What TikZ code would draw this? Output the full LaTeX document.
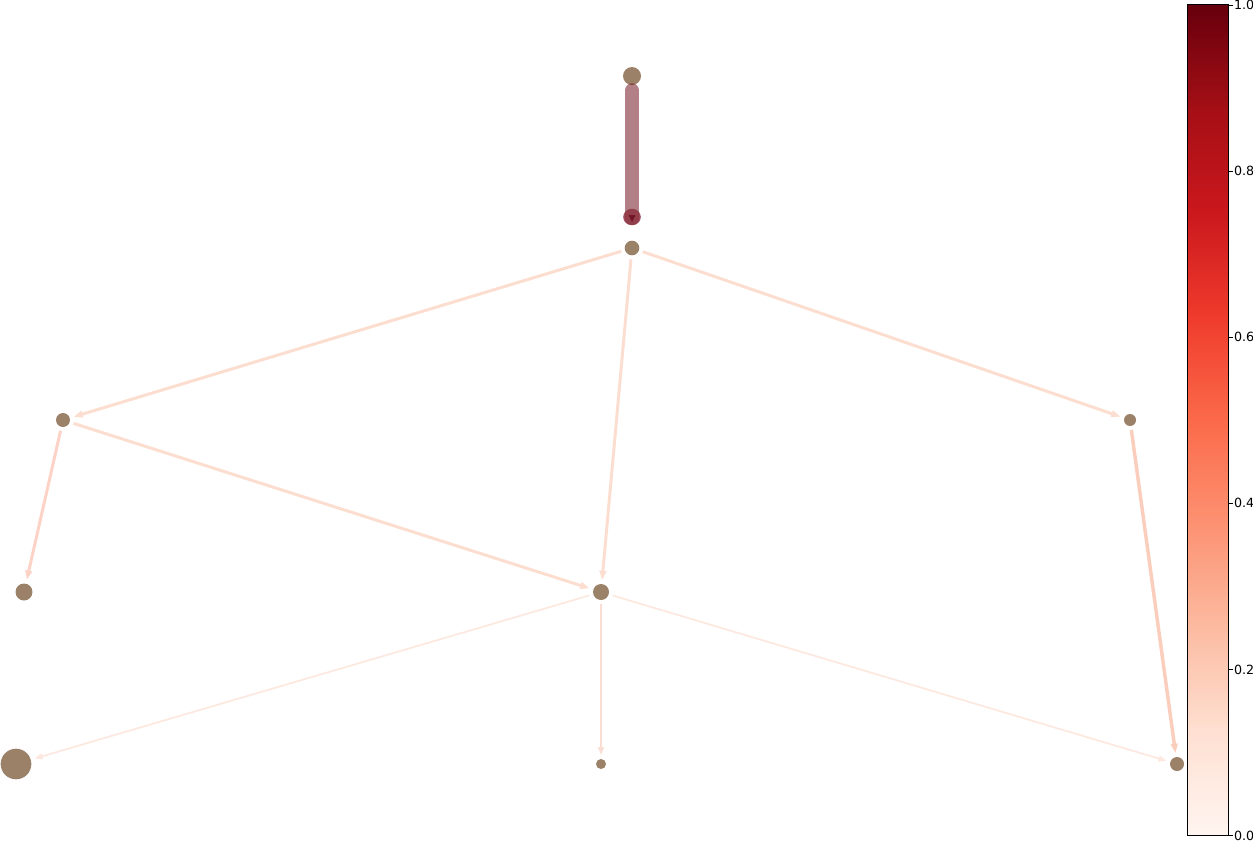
\documentclass[tikz,border=0pt]{standalone}
\usepackage{fontspec}
\setmainfont{DejaVu Sans}
\usetikzlibrary{arrows.meta}
\definecolor{nodecol}{RGB}{156,129,105}
\definecolor{rA}{HTML}{FFF5F0}
\definecolor{rB}{HTML}{FEE0D2}
\definecolor{rC}{HTML}{FCBBA1}
\definecolor{rD}{HTML}{FC9272}
\definecolor{rE}{HTML}{FB6A4A}
\definecolor{rF}{HTML}{EF3B2C}
\definecolor{rG}{HTML}{CB181D}
\definecolor{rH}{HTML}{A50F15}
\definecolor{rI}{HTML}{67000D}
\definecolor{blobcol}{RGB}{145,55,70}
\definecolor{blobtip}{RGB}{112,22,38}
\definecolor{edgeA}{RGB}{252,222,208}
\definecolor{edgeB}{RGB}{251,205,188}
\definecolor{edgeC}{RGB}{253,232,224}
\definecolor{edgeD}{RGB}{250,222,212}
\tikzset{
  gnode/.style={circle, fill=nodecol, draw=none, inner sep=0pt, outer sep=3pt},
  gedge/.style={line width=2.25pt, -{Triangle[length=7pt,width=5pt]}},
  thinedge/.style={line width=1.3pt, -{Triangle[length=6pt,width=4.5pt]}},
  cbtick/.style={line width=0.6pt},
  cblabel/.style={anchor=west, font=\fontsize{9.5pt}{11pt}\selectfont, inner sep=1pt}
}
\begin{document}
\begin{tikzpicture}[x=0.75pt,y=-0.75pt]
\useasboundingbox (0,0) rectangle (1253,842);
% nodes
\node[gnode, minimum size=13.5pt] (A) at (632,76) {};
\node[gnode, minimum size=11pt] (C) at (632,248) {};
\node[gnode, minimum size=10.5pt] (D) at (63,420) {};
\node[gnode, minimum size=9pt] (E) at (1130,420) {};
\node[gnode, minimum size=12.75pt] (F) at (24,592) {};
\node[gnode, minimum size=12pt] (G) at (601,592) {};
\node[gnode, minimum size=23pt] (H) at (16,764) {};
\node[gnode, minimum size=7.5pt] (I) at (601,764) {};
\node[gnode, minimum size=10.5pt] (J) at (1177,764) {};
% thick edge A -> C
\draw[rI, opacity=0.5, line width=10.5pt, line cap=round, shorten <=1pt, shorten >=14pt] (A) -- (C);
\coordinate (Ctip) at (632,217);
\fill[blobcol, opacity=0.9] (Ctip) ellipse[x radius=6.6pt, y radius=6.2pt];
\fill[blobtip] (632,222) -- (628.5,215) -- (635.5,215) -- cycle;
% light edges
\draw[gedge, edgeA] (C) -- (D);
\draw[gedge, edgeA] (C) -- (G);
\draw[gedge, edgeA] (C) -- (E);
\draw[gedge, edgeA] (D) -- (G);
\draw[gedge, edgeA!95!red] (D) -- (F);
\draw[gedge, edgeB, line width=2.6pt] (E) -- (J);
\draw[thinedge, edgeC] (G) -- (H);
\draw[thinedge, edgeC] (G) -- (J);
\draw[thinedge, edgeD] (G) -- (I);
% colorbar
\coordinate (cbTL) at (1187,5);
\coordinate (cbBR) at (1228,835.5);
\shade[bottom color=rA, top color=rB] (1187,835.5) rectangle (1228,731.75);
\shade[bottom color=rB, top color=rC] (1187,731.75) rectangle (1228,628);
\shade[bottom color=rC, top color=rD] (1187,628) rectangle (1228,524.25);
\shade[bottom color=rD, top color=rE] (1187,524.25) rectangle (1228,420.5);
\shade[bottom color=rE, top color=rF] (1187,420.5) rectangle (1228,316.75);
\shade[bottom color=rF, top color=rG] (1187,316.75) rectangle (1228,213);
\shade[bottom color=rG, top color=rH] (1187,213) rectangle (1228,109.25);
\shade[bottom color=rH, top color=rI] (1187,109.25) rectangle (1228,5);
\draw[line width=0.75pt] (cbTL) rectangle (cbBR);
\foreach \v/\y in {0.0/835.5,0.2/669.4,0.4/503.3,0.6/337.2,0.8/171.1,1.0/5} {
  \draw[cbtick] (1228,\y) -- (1232.5,\y);
  \node[cblabel] at (1232.5,\y) {\v};
}
\end{tikzpicture}
\end{document}
